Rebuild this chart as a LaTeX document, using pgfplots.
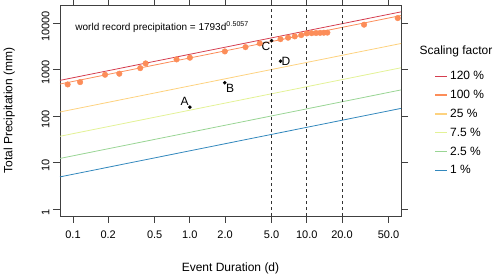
\documentclass[border=0pt]{standalone}
\usepackage{pgfplots}
\pgfplotsset{compat=1.18}
\usepackage{fontspec}
\setmainfont{Liberation Sans}
\definecolor{c120}{HTML}{D53E4F}
\definecolor{c100}{HTML}{FC8D59}
\definecolor{c25}{HTML}{FDD27F}
\definecolor{c75}{HTML}{E3F296}
\definecolor{c25b}{HTML}{99D594}
\definecolor{c1}{HTML}{3288BD}
\begin{document}
\begin{tikzpicture}[x=1pt,y=1pt]
\path[use as bounding box] (-60,-63) rectangle (440,216);
\begin{axis}[
  at={(0,0)}, anchor=south west,
  scale only axis, width=341pt, height=211pt,
  xmode=log, ymode=log,
  xmin=0.0774, xmax=64, ymin=0.707, ymax=24770,
  axis line style={black!75, line width=0.8pt},
  tick align=outside, major tick length=7pt,
  tick style={black!75, line width=0.8pt},
  minor tick num=0, xminorticks=false, yminorticks=false,
  xtick={0.1,0.2,0.5,1,2,5,10,20,50},
  xticklabels={0.1,0.2,0.5,1.0,2.0,5.0,10.0,20.0,50.0},
  ytick={1,10,100,1000,10000},
  yticklabels={1,10,100,1000,10000},
  ticklabel style={font=\fontsize{11}{13}\selectfont},
  xticklabel style={yshift=-4pt},
  yticklabel style={rotate=90, anchor=south, xshift=-3pt},
  /pgf/number format/assume math mode=true,
  xlabel={Event Duration (d)}, ylabel={Total Precipitation (mm)},
  label style={font=\fontsize{12}{14}\selectfont},
  xlabel style={yshift=-18pt},
  ylabel style={yshift=20pt},
  legend style={draw=none, at={(1.09,0.706)}, anchor=north west,
    font=\fontsize{12}{14}\selectfont, row sep=5pt,
    legend cell align=left},
  legend image code/.code={\draw[#1, line width=1.2pt] (-3pt,0pt) -- (9pt,0pt);},
  clip=true,
]
\addplot[color=c120, line width=0.8pt] coordinates {(0.0774,590.0) (64,17626)};
\addlegendentry{120 \%}
\addplot[color=c100, line width=0.8pt] coordinates {(0.0774,491.7) (64,14688)};
\addlegendentry{100 \%}
\addplot[color=c25, line width=0.8pt] coordinates {(0.0774,122.9) (64,3672)};
\addlegendentry{25 \%}
\addplot[color=c75, line width=0.8pt] coordinates {(0.0774,36.88) (64,1101.6)};
\addlegendentry{7.5 \%}
\addplot[color=c25b, line width=0.8pt] coordinates {(0.0774,12.29) (64,367.2)};
\addlegendentry{2.5 \%}
\addplot[color=c1, line width=0.8pt] coordinates {(0.0774,4.917) (64,146.9)};
\addlegendentry{1 \%}
\addplot[black!80, dashed, line width=0.7pt, forget plot] coordinates {(5,0.707) (5,24770)};
\addplot[black!80, dashed, line width=0.7pt, forget plot] coordinates {(10,0.707) (10,24770)};
\addplot[black!80, dashed, line width=0.7pt, forget plot] coordinates {(20,0.707) (20,24770)};
\addplot[only marks, mark=*, mark size=2.8pt, color=c100, forget plot] coordinates {
(0.090,482) (0.115,541) (0.188,780) (0.249,820) (0.376,1082) (0.418,1367)
(0.769,1667) (1.0,1815) (1.99,2477) (2.99,3070) (3.96,3690)
(5.96,4560) (6.92,4895) (7.89,5224) (8.97,5570)
(10,6050) (11,6120) (12,6180) (13,6220) (14,6260) (15,6300)
(30.9,9330) (60,12950)};
\addplot[only marks, mark=*, mark size=1.6pt, color=black, forget plot] coordinates {
(1.0,156) (1.99,525) (5.0,4217) (5.96,1531)};
\node[anchor=south east, font=\fontsize{12}{14}\selectfont, inner sep=1pt] at (axis cs:1.0,156) {A};
\node[anchor=north west, font=\fontsize{12}{14}\selectfont, inner sep=1pt] at (axis cs:1.99,525) {B};
\node[anchor=north east, font=\fontsize{12}{14}\selectfont, inner sep=1pt] at (axis cs:5.0,4217) {C};
\node[anchor=west, font=\fontsize{12}{14}\selectfont, inner sep=1pt] at (axis cs:5.96,1531) {D};
\node[anchor=west, font=\fontsize{10}{12}\selectfont] at (axis description cs:0.035,0.895) {world record precipitation = 1793d$^{\mathrm{0.5057}}$};
\end{axis}
\node[anchor=center, font=\fontsize{12}{14}\selectfont] at (396,164.3) {Scaling factor};
\end{tikzpicture}
\end{document}
